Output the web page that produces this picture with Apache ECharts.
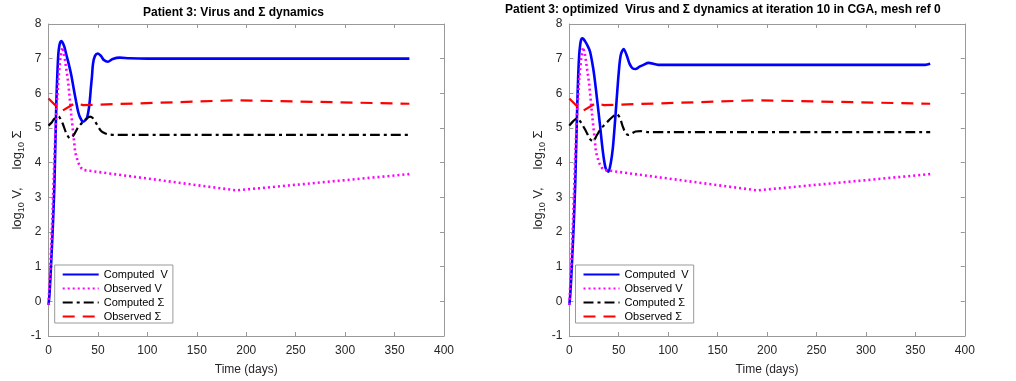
<!DOCTYPE html>
<html>
<head>
<meta charset="utf-8">
<script src="https://cdn.jsdelivr.net/npm/echarts@6/dist/echarts.min.js"></script>
<style>
html,body{margin:0;padding:0;background:#fff;}
#chart{width:1016px;height:381px;}
</style>
</head>
<body>
<div id="chart"></div>
<script>
// ---------- data ----------
const TITLE_LEFT = 'Patient 3: Virus and Σ dynamics';
const TITLE_RIGHT = 'Patient 3: optimized  Virus and Σ dynamics at iteration 10 in CGA, mesh ref 0';
const SERIES_NAMES = ['Computed  V', 'Observed V', 'Computed Σ', 'Observed Σ'];
const X_TICKS = [0, 50, 100, 150, 200, 250, 300, 350, 400];
const Y_TICKS = [-1, 0, 1, 2, 3, 4, 5, 6, 7, 8];

// Left panel: computed V
const CV_L_DAYS = [0,1,2,3,4,5,6,7,8,9,10,11,12,13,14,16,18,20,23,26,28,30,32,35,37,39,41,42,43,44,45,47,50,53,56,60,65,72,82,100,200,300,365];
const CV_L_VALS = [-0.1,0.2,0.7,1.3,1.9,2.6,3.4,4.6,5.8,6.6,7.15,7.38,7.48,7.51,7.48,7.35,7.12,6.9,6.53,6.05,5.75,5.47,5.3,5.18,5.22,5.3,5.6,5.86,6.2,6.5,6.85,7.08,7.15,7.08,6.96,6.91,6.99,7.03,7.01,7.0,7.0,7.0,7.0];
// Left panel: computed Sigma
const CS_L_DAYS = [0,3,6,10,14,18,22,26,30,35,39,42,45,48,50,53,56,60,70,90,365];
const CS_L_VALS = [5.07,5.15,5.27,5.33,5.15,4.85,4.7,4.82,5.02,5.18,5.28,5.33,5.28,5.15,5.05,4.92,4.86,4.82,4.8,4.8,4.8];

// Right panel: computed V
const CV_R_DAYS = [0,1,2,3,4,5,6,7,8,9,10,11,12,13,14,16,18,21,24,26,28,31,33,35,37,39.5,42,44,46,48,50,52,55,58,61,64,67,71,75,80,90,120,250,360,365];
const CV_R_VALS = [-0.1,0.2,0.7,1.3,1.9,2.6,3.4,4.5,5.6,6.5,7.1,7.4,7.55,7.59,7.58,7.5,7.4,7.2,6.75,6.34,5.85,5.09,4.55,4.1,3.82,3.74,4.0,4.41,5.1,5.86,6.6,7.1,7.28,7.1,6.85,6.72,6.7,6.77,6.82,6.88,6.82,6.82,6.82,6.82,6.85];
// Right panel: computed Sigma
const CS_R_DAYS = [0,4,8,12,17,21,24,28,32,36,40,44,48,51,54,57,60,63,67,72,80,100,365];
const CS_R_VALS = [5.07,5.2,5.28,5.15,4.9,4.68,4.62,4.8,4.98,5.1,5.22,5.33,5.4,5.3,5.05,4.85,4.8,4.84,4.9,4.91,4.88,4.88,4.88];

// Observed (same in both panels)
const OV_DAYS = [0,2,4,6,8,10,12,14,16,18,20,23,27,30,33,35,190,365];
const OV_VALS = [-0.1,1.1,2.5,4.2,5.5,6.4,7.0,7.33,7.1,6.7,6.3,5.4,4.3,4.0,3.85,3.79,3.2,3.67];
const OS_DAYS = [0,13,27,35,190,365];
const OS_VALS = [5.85,5.48,5.72,5.66,5.8,5.7];

// ---------- helpers ----------
function zip(xs, ys){ return xs.map((x,i)=>[x, ys[i]]); }
const FONT = 'Liberation Sans, Arial, Helvetica, sans-serif';
const AXIS_COLOR = '#999';
const LABEL_COLOR = '#262626';

const GRIDS = [
  {left: 48.5, top: 24, width: 395.5, height: 312},
  {left: 569.3, top: 24, width: 395.5, height: 312}
];

function xAxes(gi){
  const base = {type:'value', gridIndex: gi, min: X_TICKS[0], max: X_TICKS[X_TICKS.length-1], interval: 50,
    splitLine:{show:false}, axisLine:{show:true, onZero:false, lineStyle:{color:AXIS_COLOR, width:1}},
    axisTick:{show:true, inside:true, length:4, lineStyle:{color:AXIS_COLOR}}};
  return [
    Object.assign({}, base, {position:'bottom', name:'Time (days)', nameLocation:'middle', nameGap:28,
      nameTextStyle:{fontSize:12, color:LABEL_COLOR, fontFamily:FONT},
      axisLabel:{fontSize:12, color:LABEL_COLOR, fontFamily:FONT, margin:9}}),
    Object.assign({}, base, {position:'top', axisLabel:{show:false}})
  ];
}
function yAxes(gi){
  const base = {type:'value', gridIndex: gi, min: Y_TICKS[0], max: Y_TICKS[Y_TICKS.length-1], interval: 1,
    splitLine:{show:false}, axisLine:{show:true, onZero:false, lineStyle:{color:AXIS_COLOR, width:1}},
    axisTick:{show:true, inside:true, length:4, lineStyle:{color:AXIS_COLOR}}};
  return [
    Object.assign({}, base, {position:'left',
      name:'{t|log}{s|10}{t| V,     log}{s|10}{t| Σ}', nameLocation:'middle', nameGap:22, nameRotate:90,
      nameTextStyle:{rich:{
        t:{fontSize:13, color:LABEL_COLOR, fontFamily:FONT},
        s:{fontSize:9, color:LABEL_COLOR, fontFamily:FONT, padding:[9,0,0,0]}
      }},
      axisLabel:{fontSize:12, color:LABEL_COLOR, fontFamily:FONT, margin:7}}),
    Object.assign({}, base, {position:'right', axisLabel:{show:false}})
  ];
}

function panelSeries(gi, cvDays, cvVals, csDays, csVals){
  const ax = gi*2;
  return [
    {name:SERIES_NAMES[0], type:'line', xAxisIndex:ax, yAxisIndex:ax, data:zip(cvDays,cvVals), smooth:0.3,
      symbol:'none', lineStyle:{color:'#0000ff', width:2.6}, itemStyle:{color:'#0000ff'}, z:2},
    {name:SERIES_NAMES[1], type:'line', xAxisIndex:ax, yAxisIndex:ax, data:zip(OV_DAYS,OV_VALS),
      symbol:'none', lineStyle:{color:'#ff00ff', width:2.6, type:[2,3]}, itemStyle:{color:'#ff00ff'}, z:3},
    {name:SERIES_NAMES[2], type:'line', xAxisIndex:ax, yAxisIndex:ax, data:zip(csDays,csVals), smooth:0.3,
      symbol:'none', lineStyle:{color:'#000000', width:2.2, type:[10,4,3,4]}, itemStyle:{color:'#000'}, z:4},
    {name:SERIES_NAMES[3], type:'line', xAxisIndex:ax, yAxisIndex:ax, data:zip(OS_DAYS,OS_VALS),
      symbol:'none', lineStyle:{color:'#ff0000', width:2.2, type:[12,8]}, itemStyle:{color:'#ff0000'}, z:5}
  ];
}

function legend(left){
  return {orient:'vertical', left:left, top:265, data:SERIES_NAMES, itemWidth:36, itemHeight:12, itemGap:3,
    padding:[4,5,1,7], backgroundColor:'#fff', borderColor:AXIS_COLOR, borderWidth:1, borderRadius:0,
    itemStyle:{opacity:0, borderWidth:0},
    textStyle:{fontSize:11, color:'#000', fontFamily:FONT}, selectedMode:false};
}

const chart = echarts.init(document.getElementById('chart'), null, {renderer:'canvas'});
chart.setOption({
  animation:false,
  backgroundColor:'#fff',
  title:[
    {text:TITLE_LEFT, left:143, top:7, padding:0, textStyle:{fontSize:12, fontWeight:'bold', color:'#000', fontFamily:FONT}},
    {text:TITLE_RIGHT, left:505, top:4, padding:0, textStyle:{fontSize:12, fontWeight:'bold', color:'#000', fontFamily:FONT}}
  ],
  grid:GRIDS,
  xAxis:[...xAxes(0), ...xAxes(1)],
  yAxis:[...yAxes(0), ...yAxes(1)],
  legend:[legend(54.7), legend(575.5)],
  series:[...panelSeries(0, CV_L_DAYS, CV_L_VALS, CS_L_DAYS, CS_L_VALS),
          ...panelSeries(1, CV_R_DAYS, CV_R_VALS, CS_R_DAYS, CS_R_VALS)]
});
</script>
</body>
</html>
